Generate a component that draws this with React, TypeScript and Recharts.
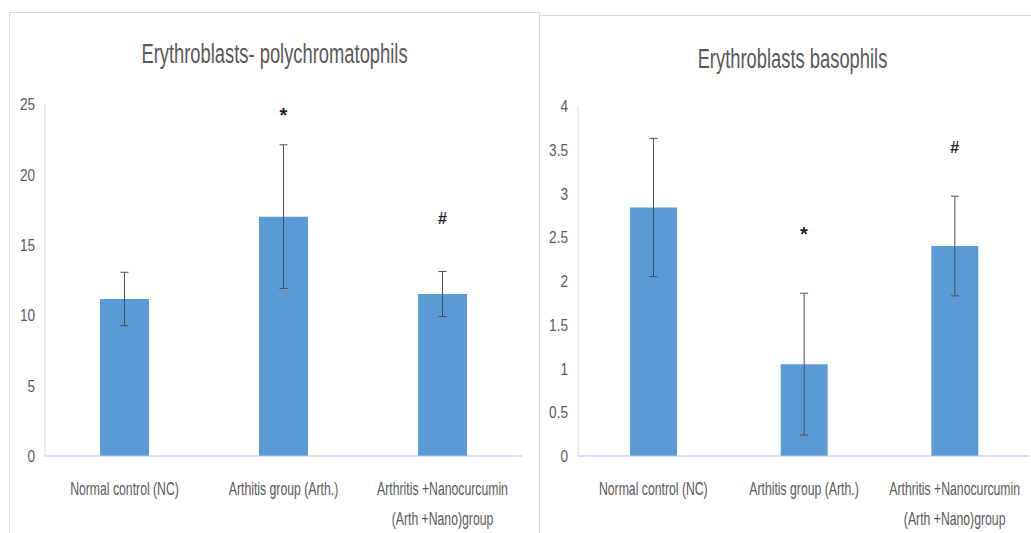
import React from 'react';
import { ComposedChart, Bar, ErrorBar, Scatter, XAxis, YAxis } from 'recharts';

// group names (\n = line break in the axis label)
const categories = [
  'Normal control (NC)',
  'Arthitis group (Arth.)',
  'Arthritis +Nanocurcumin\n(Arth +Nano)group',
];

// Erythroblasts- polychromatophils
const polyMeans = [11.15, 17.0, 11.5];
const polyErrors = [1.9, 5.1, 1.6];
const polyMarks = ['', '*', '#'];
const polyMarkAt = [null, 24.6, 16.9];
const polyTicks = [0, 5, 10, 15, 20, 25];

// Erythroblasts basophils
const basoMeans = [2.84, 1.05, 2.4];
const basoErrors = [0.79, 0.81, 0.57];
const basoMarks = ['', '*', '#'];
const basoMarkAt = [null, 2.6, 3.53];
const basoTicks = [0, 0.5, 1, 1.5, 2, 2.5, 3, 3.5, 4];

const FONT = "'Liberation Sans', Arial, sans-serif";
const GREY = '#595959';
const SQUEEZE = 0.68; // the source charts use a narrow, tall font

const buildRows = (means: number[], errors: number[], marks: string[], markAt: (number | null)[]) =>
  categories.map((name, i) => ({ name, mean: means[i], err: errors[i], mark: marks[i], markAt: markAt[i] }));

const polyRows = buildRows(polyMeans, polyErrors, polyMarks, polyMarkAt);
const basoRows = buildRows(basoMeans, basoErrors, basoMarks, basoMarkAt);

const XTick = (props: any) => {
  const { x, y, payload } = props;
  const lines = String(payload.value).split('\n');
  return (
    <g transform={`translate(${x},${y})`}>
      {lines.map((line, i) => (
        <text
          key={i}
          transform={`translate(0,${39 + i * 30}) scale(${SQUEEZE},1)`}
          textAnchor="middle"
          fontSize={18}
          fill={GREY}
          fontFamily={FONT}
        >
          {line}
        </text>
      ))}
    </g>
  );
};

const YTick = (props: any) => {
  const { x, y, payload } = props;
  return (
    <text
      transform={`translate(${x},${y}) scale(0.8,1)`}
      dy="0.36em"
      textAnchor="end"
      fontSize={17}
      fill={GREY}
      fontFamily={FONT}
    >
      {payload.value}
    </text>
  );
};

const MarkShape = (props: any) => {
  const { cx, cy, payload } = props;
  if (!payload || !payload.mark || !Number.isFinite(cy)) return <g />;
  const star = payload.mark === '*';
  return (
    <text
      x={cx}
      y={cy}
      dy={star ? '0.6em' : '0.38em'}
      textAnchor="middle"
      fontSize={star ? 20 : 16}
      fontWeight="bold"
      fill="#1f1f1f"
      fontFamily={FONT}
    >
      {payload.mark}
    </text>
  );
};

interface ChartProps {
  rows: any[];
  ticks: number[];
  width: number;
  top: number;
  right: number;
  yWidth: number;
  barSize: number;
}

const ErrorBarChart = ({ rows, ticks, width, top, right, yWidth, barSize }: ChartProps) => (
  <ComposedChart width={width} height={533} data={rows} margin={{ top, right, bottom: 7, left: 0 }}>
    <XAxis
      dataKey="name"
      interval={0}
      height={70}
      tick={<XTick />}
      tickLine={false}
      tickSize={0}
      tickMargin={0}
      axisLine={{ stroke: '#b4c7e7' }}
    />
    <YAxis
      domain={[0, ticks[ticks.length - 1]]}
      ticks={ticks}
      interval={0}
      width={yWidth}
      tick={<YTick />}
      tickLine={false}
      tickSize={0}
      tickMargin={10}
      axisLine={{ stroke: '#d6dce5' }}
    />
    <Bar dataKey="mean" fill="#5b9bd5" barSize={barSize} isAnimationActive={false}>
      <ErrorBar dataKey="err" width={4} stroke="#4d4d4d" strokeWidth={1} direction="y" />
    </Bar>
    <Scatter dataKey="markAt" shape={<MarkShape />} isAnimationActive={false} />
  </ComposedChart>
);

const panelStyle = (left: number, top: number, width: number): React.CSSProperties => ({
  position: 'absolute',
  left,
  top,
  width,
  height: 560,
  border: '1px solid #d9d9d9',
  background: '#fff',
  boxSizing: 'border-box',
});

export default function App() {
  return (
    <div
      style={{
        position: 'absolute',
        left: 0,
        top: 0,
        width: 1031,
        height: 533,
        overflow: 'hidden',
        background: '#fff',
      }}
    >
      <div style={panelStyle(9, 12, 531)} />
      <div style={panelStyle(539, 15, 520)} />

      <div style={{ position: 'absolute', left: 0, top: 0 }}>
        <ErrorBarChart rows={polyRows} ticks={polyTicks} width={531} top={104} right={9} yWidth={45} barSize={49} />
      </div>
      <div style={{ position: 'absolute', left: 531, top: 0 }}>
        <ErrorBarChart rows={basoRows} ticks={basoTicks} width={500} top={106} right={1} yWidth={47} barSize={47} />
      </div>

      <svg width={1031} height={533} style={{ position: 'absolute', left: 0, top: 0, pointerEvents: 'none' }}>
        <text transform={`translate(274.5,63) scale(${SQUEEZE},1)`} textAnchor="middle" fontSize={27} fill={GREY} fontFamily={FONT}>
          Erythroblasts- polychromatophils
        </text>
        <text transform={`translate(792.5,68) scale(${SQUEEZE},1)`} textAnchor="middle" fontSize={27} fill={GREY} fontFamily={FONT}>
          Erythroblasts basophils
        </text>
      </svg>
    </div>
  );
}
